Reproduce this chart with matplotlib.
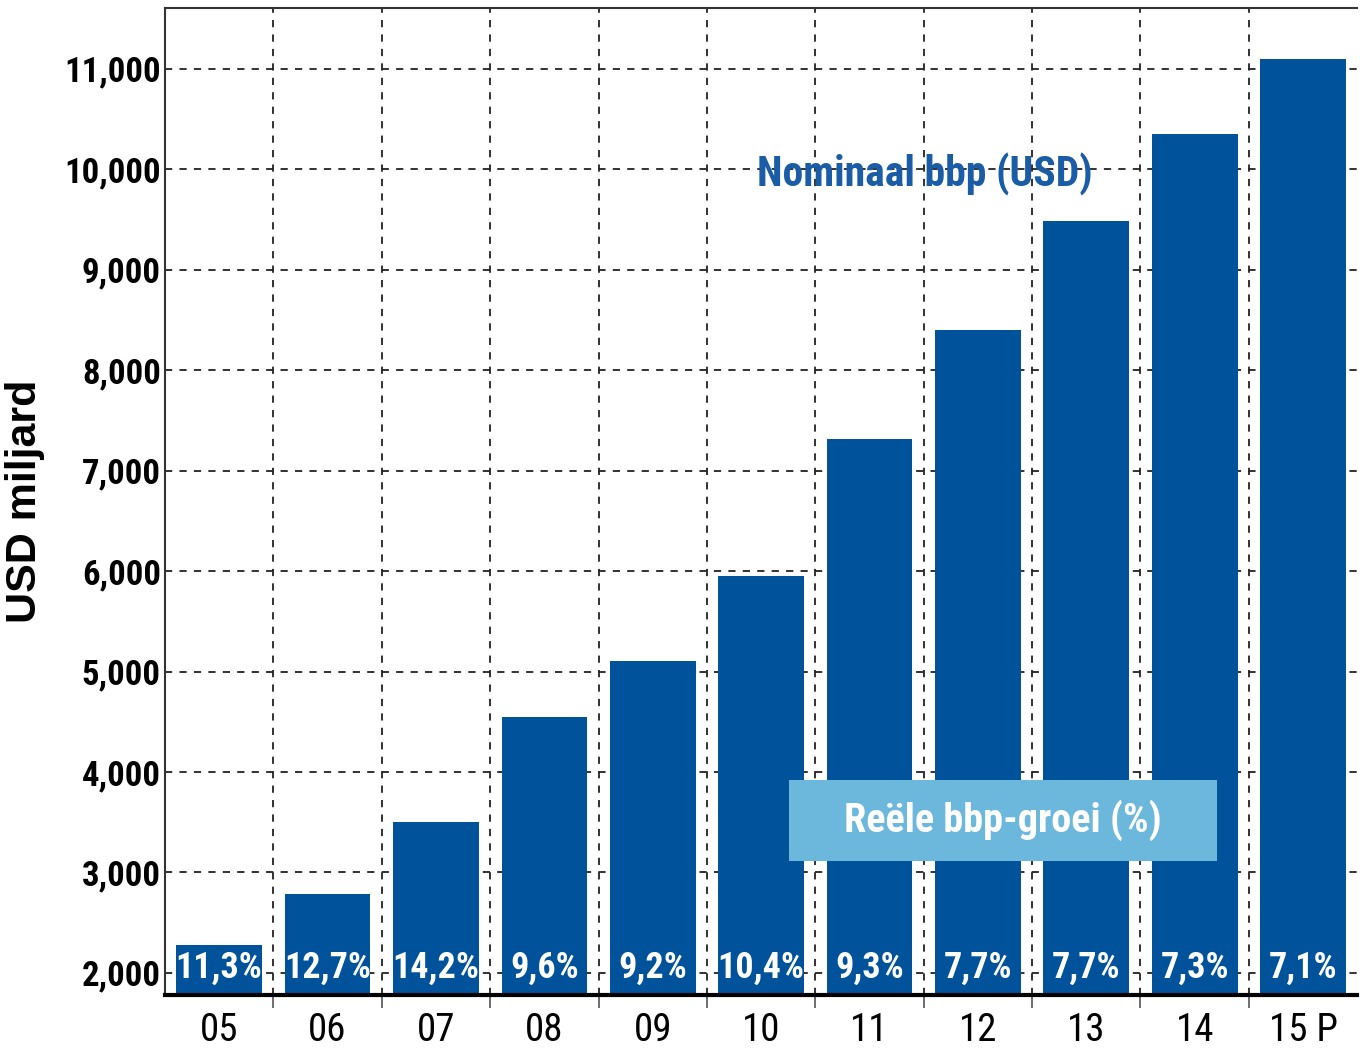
import numpy as np
import matplotlib
matplotlib.use("Agg")
import matplotlib.pyplot as plt
from matplotlib.patches import Rectangle

# data
years = ["05", "06", "07", "08", "09", "10", "11", "12", "13", "14", "15 P"]
gdp_usd_bn = [2280, 2790, 3500, 4550, 5100, 5950, 7310, 8400, 9480, 10350, 11100]
real_growth = ["11,3%", "12,7%", "14,2%", "9,6%", "9,2%", "10,4%", "9,3%",
               "7,7%", "7,7%", "7,3%", "7,1%"]
yticks = list(range(2000, 11001, 1000))

narrow = ["Roboto Condensed", "Open Sans Condensed", "Liberation Sans", "DejaVu Sans"]
bar_col = "#00529b"
box_col = "#6cb7dc"

fig = plt.figure(figsize=(13.6, 10.53), dpi=100)
ax = fig.add_axes([0.1213, 0.0551, 0.8767, 0.9373])

x = np.arange(len(years))
ax.bar(x, gdp_usd_bn, width=0.79, color=bar_col, zorder=3)

ax.set_xlim(-0.5, len(years) - 0.5)
ax.set_ylim(1780, 11605)

# grid: horizontal at y ticks, vertical at category boundaries
ax.set_yticks(yticks)
ax.set_yticklabels([f"{v:,}" for v in yticks], family=narrow, fontsize=25,
                   fontweight="bold")
ax.set_xticks(x)
ax.set_xticklabels(years, family=narrow, fontsize=28)
ax.set_xticks(x[:-1] + 0.5, minor=True)
ax.tick_params(axis="x", which="major", length=0, pad=12)
ax.tick_params(axis="x", which="minor", length=9, width=1.2, color="#555555")
ax.tick_params(axis="y", length=0, pad=3)
ax.grid(True, axis="y", which="major", linestyle=(0, (4, 4)), color="#222222",
        linewidth=1.3, zorder=1)
ax.grid(True, axis="x", which="minor", linestyle=(0, (4, 4)), color="#222222",
        linewidth=1.3, zorder=1)
ax.set_axisbelow(True)

for s in ["left", "top"]:
    ax.spines[s].set_color("#333333")
    ax.spines[s].set_linewidth(1.5)
ax.spines["right"].set_visible(False)
ax.spines["bottom"].set_color("black")
ax.spines["bottom"].set_linewidth(3)
ax.spines["bottom"].set_zorder(5)

# growth labels inside the bar bases
for xi, lab in zip(x, real_growth):
    ax.text(xi, 2050, lab, ha="center", va="center", color="white",
            family=narrow, fontsize=26, fontweight="bold", zorder=4)

ax.text(0.637, 0.831, "Nominaal bbp (USD)", transform=ax.transAxes,
        ha="center", va="center", color="#1a5ca6", family=narrow,
        fontsize=30, fontweight="bold", zorder=2)

ax.add_patch(Rectangle((0.5235, 0.1358), 0.3591, 0.082, transform=ax.transAxes,
                       facecolor=box_col, edgecolor="none", zorder=6))
ax.text(0.703, 0.177, "Reële bbp-groei (%)", transform=ax.transAxes,
        ha="center", va="center", color="white", family=narrow,
        fontsize=29, fontweight="bold", zorder=7)

ax.set_ylabel("USD miljard", family=["Liberation Sans", "DejaVu Sans"],
              fontsize=31, fontweight="bold")
ax.yaxis.set_label_coords(-0.101, 0.5)

fig.savefig("out.png", dpi=100)
